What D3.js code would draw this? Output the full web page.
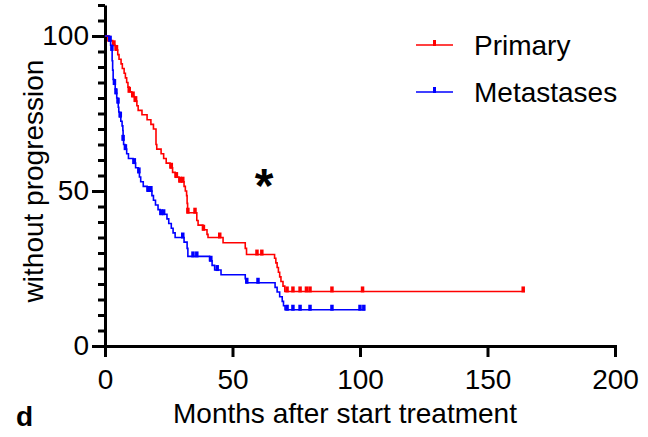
<!DOCTYPE html>
<html>
<head>
<meta charset="utf-8">
<script src="https://cdn.jsdelivr.net/npm/d3@7"></script>
<style>
  body { margin: 0; background: #fff; }
  svg { font-family: 'Liberation Sans', Arial, sans-serif; }
  .axis path, .axis line { stroke: #000; stroke-width: 3; }
  .axis text { font-size: 28px; fill: #000; }
</style>
</head>
<body>
<svg id="chart" width="648" height="437"></svg>
<script>
// Primary: event times (months) and survival (%) right after each step
const primaryTimes = [1.5, 3, 4, 5, 5.5, 6.3, 6.8, 7.5, 8, 8.5, 9, 9.5, 10.5, 11.5, 12.5, 13, 14.5, 16.5, 18, 19,
  20, 20.3, 22, 23, 24, 25.5, 26.5, 27.5, 29, 31, 31.5, 32, 32.2, 32.4, 36, 36.5, 38.4, 40, 40.4, 46.3,
  55, 55.5, 66.5, 67, 67.5, 68, 68.5, 69, 69.8, 70.5];
const primarySurv = [98.5, 97, 95.5, 94, 92.5, 91, 89.5, 88, 86.5, 85, 83.5, 82, 80.5, 79, 77.5, 76, 74.6, 73, 71.5, 70,
  65, 63.5, 62, 60.5, 59, 57.5, 56, 54.5, 53, 51.5, 50, 48.5, 46, 43, 40.5, 39, 37.5, 36, 35, 33.3,
  31.5, 29.5, 28.3, 26.8, 25.3, 23.8, 22.3, 20.8, 19.3, 17.6];
const primaryCensored = [1.5, 3.5, 4.5, 9.5, 11, 12, 26, 28, 29.5, 30.5, 32.5, 35.3, 38.6, 45, 59.6, 61.5,
  71.4, 73.7, 76.5, 79, 80.4, 89, 101, 164];
const primaryEnd = 164.7;

// Metastases
const metTimes = [1.5, 2.2, 2.7, 2.8, 3.0, 3.2, 3.5, 4, 4.3, 4.6, 5, 5.2, 5.4, 5.7, 6.2, 6.7, 7, 7.1, 7.3, 7.8,
  8.5, 9.2, 11, 12, 13, 13.5, 14, 15, 16.5, 18.4, 19, 19.8, 20.8, 21.6, 24.3, 25, 26, 26.7, 27.5, 31,
  32.2, 32.5, 41, 42, 43, 45.5, 55, 55.5, 66.7, 67.5, 68.5, 69.5, 70, 70.6];
const metSurv = [98.5, 97, 95.5, 92, 89, 86, 84.5, 83, 81.5, 80, 78.5, 77, 75.5, 74, 72.5, 71, 69.5, 66.5, 65, 63.5,
  62, 60.5, 59, 57.5, 56, 54.5, 53, 51.5, 50, 48.5, 47, 45.5, 44, 42.5, 41, 39.5, 38, 36.5, 35, 33.5,
  31.5, 28.9, 27.5, 26, 24.5, 23, 21.7, 20.4, 18.9, 17.4, 15.9, 14.4, 13, 11.7];
const metCensored = [2, 2.7, 3.7, 4.3, 5.1, 6, 7.1, 8, 11.5, 13.3, 17, 18, 22, 23, 30.5, 34.5, 36, 41.5, 44,
  55.6, 60, 71.4, 73.7, 76.5, 80.4, 89, 100, 101.5];
const metEnd = 102;

const xTicks = [0, 50, 100, 150, 200];
const yMajorTicks = [0, 50, 100];

const svg = d3.select('#chart');

const x = d3.scaleLinear().domain([0, 200]).range([105, 615]);
const y = d3.scaleLinear().domain([0, 110]).range([346, 5]);

// y axis: minor ticks every 5, labelled major ticks
svg.append('g')
  .attr('class', 'axis')
  .attr('transform', 'translate(105,0)')
  .call(d3.axisLeft(y).tickValues(d3.range(0, 111, 5)).tickFormat('').tickSizeInner(7).tickSizeOuter(0));

svg.append('g')
  .attr('class', 'axis')
  .attr('transform', 'translate(105,0)')
  .call(d3.axisLeft(y).tickValues(yMajorTicks).tickSizeInner(13).tickSizeOuter(0).tickPadding(3))
  .call(g => g.select('.domain').remove());

svg.append('g')
  .attr('class', 'axis')
  .attr('transform', 'translate(0,346)')
  .call(d3.axisBottom(x).tickValues(xTicks).tickSizeInner(11).tickSizeOuter(0).tickPadding(12))
  .call(g => g.select('.domain').attr('stroke-linecap', 'square'));

function steps(times, surv, end) {
  const pts = [[0, 100]];
  times.forEach((t, i) => pts.push([t, surv[i]]));
  pts.push([end, surv[surv.length - 1]]);
  return pts;
}

function survAt(times, surv, t) {
  const i = d3.bisectRight(times, t);
  return i === 0 ? 100 : surv[i - 1];
}

const line = d3.line()
  .x(d => x(d[0]))
  .y(d => y(d[1]))
  .curve(d3.curveStepAfter);

const series = [
  { times: primaryTimes, surv: primarySurv, cens: primaryCensored, end: primaryEnd, color: '#ff0000' },
  { times: metTimes, surv: metSurv, cens: metCensored, end: metEnd, color: '#0000ff' },
];

series.forEach(s => {
  svg.append('path')
    .datum(steps(s.times, s.surv, s.end))
    .attr('d', line)
    .attr('fill', 'none')
    .attr('stroke', s.color)
    .attr('stroke-width', 1.6);

  svg.append('g')
    .selectAll('line')
    .data(s.cens)
    .enter()
    .append('line')
    .attr('x1', d => x(d))
    .attr('x2', d => x(d))
    .attr('y1', d => y(survAt(s.times, s.surv, d)) + 1)
    .attr('y2', d => y(survAt(s.times, s.surv, d)) - 5)
    .attr('stroke', s.color)
    .attr('stroke-width', 3.5);
});

// legend
const legend = [
  { name: 'Primary', color: '#ff0000', yPos: 45 },
  { name: 'Metastases', color: '#0000ff', yPos: 92 },
];
legend.forEach(l => {
  svg.append('line')
    .attr('x1', 416).attr('x2', 453)
    .attr('y1', l.yPos).attr('y2', l.yPos)
    .attr('stroke', l.color).attr('stroke-width', 1.6);
  svg.append('line')
    .attr('x1', 434.5).attr('x2', 434.5)
    .attr('y1', l.yPos + 1).attr('y2', l.yPos - 5)
    .attr('stroke', l.color).attr('stroke-width', 3);
  svg.append('text')
    .attr('x', 474).attr('y', l.yPos + 10)
    .attr('font-size', 28)
    .text(l.name);
});

// axis titles
svg.append('text')
  .attr('transform', 'translate(43,181) rotate(-90)')
  .attr('text-anchor', 'middle')
  .attr('font-size', 28)
  .text('without progression');

svg.append('text')
  .attr('x', 345).attr('y', 423)
  .attr('text-anchor', 'middle')
  .attr('font-size', 28)
  .text('Months after start treatment');

svg.append('text')
  .attr('x', 16).attr('y', 426)
  .attr('font-size', 28)
  .attr('font-weight', 'bold')
  .text('d');

svg.append('text')
  .attr('x', 264).attr('y', 202)
  .attr('text-anchor', 'middle')
  .attr('font-size', 48)
  .attr('font-weight', 'bold')
  .text('*');
</script>
</body>
</html>
